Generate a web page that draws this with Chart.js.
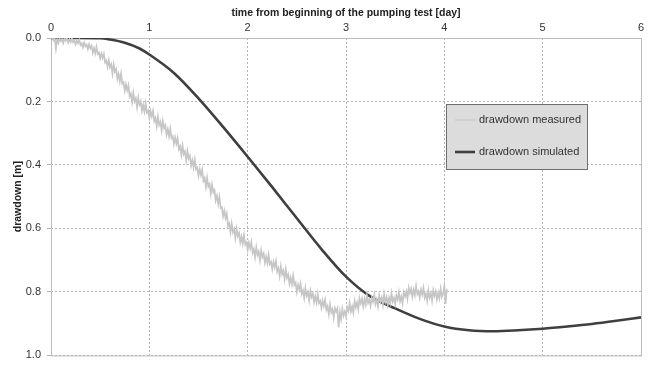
<!DOCTYPE html>
<html lang="en">
<head>
  <meta charset="UTF-8">
  <title>Pumping test drawdown</title>
  <style>
    html, body { margin: 0; padding: 0; background: #fff; }
    #wrap { width: 654px; height: 368px; }
  </style>
</head>
<body>
  <div id="wrap"><canvas id="drawdownChart" width="654" height="368"></canvas></div>

  <script src="https://cdn.jsdelivr.net/npm/chart.js"></script>
  <script>
    // measured drawdown (logger readings) [day] / [m], one row = 0.1 day
    const measuredTime = [
      0.0000, 0.0125, 0.0250, 0.0375, 0.0500, 0.0625, 0.0750, 0.0875,
      0.1000, 0.1125, 0.1250, 0.1375, 0.1500, 0.1625, 0.1750, 0.1875,
      0.2000, 0.2125, 0.2250, 0.2375, 0.2500, 0.2625, 0.2750, 0.2875,
      0.3000, 0.3125, 0.3250, 0.3375, 0.3500, 0.3625, 0.3750, 0.3875,
      0.4000, 0.4125, 0.4250, 0.4375, 0.4500, 0.4625, 0.4750, 0.4875,
      0.5000, 0.5125, 0.5250, 0.5375, 0.5500, 0.5625, 0.5750, 0.5875,
      0.6000, 0.6125, 0.6250, 0.6375, 0.6500, 0.6625, 0.6750, 0.6875,
      0.7000, 0.7125, 0.7250, 0.7375, 0.7500, 0.7625, 0.7750, 0.7875,
      0.8000, 0.8125, 0.8250, 0.8375, 0.8500, 0.8625, 0.8750, 0.8875,
      0.9000, 0.9125, 0.9250, 0.9375, 0.9500, 0.9625, 0.9750, 0.9875,
      1.0000, 1.0125, 1.0250, 1.0375, 1.0500, 1.0625, 1.0750, 1.0875,
      1.1000, 1.1125, 1.1250, 1.1375, 1.1500, 1.1625, 1.1750, 1.1875,
      1.2000, 1.2125, 1.2250, 1.2375, 1.2500, 1.2625, 1.2750, 1.2875,
      1.3000, 1.3125, 1.3250, 1.3375, 1.3500, 1.3625, 1.3750, 1.3875,
      1.4000, 1.4125, 1.4250, 1.4375, 1.4500, 1.4625, 1.4750, 1.4875,
      1.5000, 1.5125, 1.5250, 1.5375, 1.5500, 1.5625, 1.5750, 1.5875,
      1.6000, 1.6125, 1.6250, 1.6375, 1.6500, 1.6625, 1.6750, 1.6875,
      1.7000, 1.7125, 1.7250, 1.7375, 1.7500, 1.7625, 1.7750, 1.7875,
      1.8000, 1.8125, 1.8250, 1.8375, 1.8500, 1.8625, 1.8750, 1.8875,
      1.9000, 1.9125, 1.9250, 1.9375, 1.9500, 1.9625, 1.9750, 1.9875,
      2.0000, 2.0125, 2.0250, 2.0375, 2.0500, 2.0625, 2.0750, 2.0875,
      2.1000, 2.1125, 2.1250, 2.1375, 2.1500, 2.1625, 2.1750, 2.1875,
      2.2000, 2.2125, 2.2250, 2.2375, 2.2500, 2.2625, 2.2750, 2.2875,
      2.3000, 2.3125, 2.3250, 2.3375, 2.3500, 2.3625, 2.3750, 2.3875,
      2.4000, 2.4125, 2.4250, 2.4375, 2.4500, 2.4625, 2.4750, 2.4875,
      2.5000, 2.5125, 2.5250, 2.5375, 2.5500, 2.5625, 2.5750, 2.5875,
      2.6000, 2.6125, 2.6250, 2.6375, 2.6500, 2.6625, 2.6750, 2.6875,
      2.7000, 2.7125, 2.7250, 2.7375, 2.7500, 2.7625, 2.7750, 2.7875,
      2.8000, 2.8125, 2.8250, 2.8375, 2.8500, 2.8625, 2.8750, 2.8875,
      2.9000, 2.9125, 2.9250, 2.9375, 2.9500, 2.9625, 2.9750, 2.9875,
      3.0000, 3.0125, 3.0250, 3.0375, 3.0500, 3.0625, 3.0750, 3.0875,
      3.1000, 3.1125, 3.1250, 3.1375, 3.1500, 3.1625, 3.1750, 3.1875,
      3.2000, 3.2125, 3.2250, 3.2375, 3.2500, 3.2625, 3.2750, 3.2875,
      3.3000, 3.3125, 3.3250, 3.3375, 3.3500, 3.3625, 3.3750, 3.3875,
      3.4000, 3.4125, 3.4250, 3.4375, 3.4500, 3.4625, 3.4750, 3.4875,
      3.5000, 3.5125, 3.5250, 3.5375, 3.5500, 3.5625, 3.5750, 3.5875,
      3.6000, 3.6125, 3.6250, 3.6375, 3.6500, 3.6625, 3.6750, 3.6875,
      3.7000, 3.7125, 3.7250, 3.7375, 3.7500, 3.7625, 3.7750, 3.7875,
      3.8000, 3.8125, 3.8250, 3.8375, 3.8500, 3.8625, 3.8750, 3.8875,
      3.9000, 3.9125, 3.9250, 3.9375, 3.9500, 3.9625, 3.9750, 3.9875,
      4.0000, 4.0125, 4.0250
    ];
    const measuredDrawdown = [
      0.000, 0.000, 0.007, 0.001, 0.034, 0.005, 0.016, 0.001,
      0.010, 0.003, 0.016, 0.000, 0.008, 0.001, 0.015, 0.004,
      0.013, 0.000, 0.013, 0.009, 0.020, 0.008, 0.016, 0.006,
      0.022, 0.017, 0.029, 0.014, 0.026, 0.021, 0.035, 0.020,
      0.032, 0.024, 0.046, 0.032, 0.048, 0.028, 0.050, 0.046,
      0.064, 0.049, 0.063, 0.050, 0.077, 0.071, 0.091, 0.070,
      0.092, 0.083, 0.112, 0.083, 0.106, 0.098, 0.129, 0.113,
      0.136, 0.112, 0.144, 0.140, 0.166, 0.146, 0.165, 0.149,
      0.184, 0.175, 0.202, 0.173, 0.200, 0.190, 0.218, 0.188,
      0.210, 0.200, 0.229, 0.211, 0.232, 0.206, 0.235, 0.229,
      0.252, 0.230, 0.247, 0.229, 0.262, 0.252, 0.278, 0.248,
      0.274, 0.264, 0.292, 0.262, 0.284, 0.275, 0.305, 0.288,
      0.310, 0.285, 0.315, 0.310, 0.334, 0.313, 0.332, 0.315,
      0.350, 0.341, 0.368, 0.339, 0.366, 0.357, 0.386, 0.357,
      0.380, 0.371, 0.402, 0.385, 0.408, 0.383, 0.414, 0.409,
      0.434, 0.413, 0.432, 0.415, 0.450, 0.441, 0.469, 0.440,
      0.468, 0.460, 0.490, 0.462, 0.486, 0.479, 0.512, 0.497,
      0.522, 0.500, 0.535, 0.533, 0.562, 0.544, 0.567, 0.553,
      0.592, 0.584, 0.612, 0.584, 0.612, 0.602, 0.631, 0.601,
      0.624, 0.614, 0.644, 0.626, 0.648, 0.621, 0.651, 0.644,
      0.668, 0.645, 0.662, 0.643, 0.676, 0.665, 0.690, 0.659,
      0.684, 0.673, 0.700, 0.669, 0.690, 0.679, 0.708, 0.689,
      0.710, 0.683, 0.712, 0.705, 0.728, 0.705, 0.722, 0.703,
      0.736, 0.725, 0.750, 0.719, 0.744, 0.733, 0.760, 0.729,
      0.756, 0.745, 0.774, 0.755, 0.776, 0.749, 0.778, 0.771,
      0.800, 0.777, 0.793, 0.774, 0.806, 0.795, 0.819, 0.788,
      0.812, 0.801, 0.827, 0.796, 0.816, 0.805, 0.833, 0.814,
      0.834, 0.807, 0.835, 0.828, 0.850, 0.827, 0.844, 0.825,
      0.856, 0.845, 0.870, 0.839, 0.864, 0.854, 0.881, 0.851,
      0.862, 0.852, 0.912, 0.864, 0.886, 0.853, 0.875, 0.862,
      0.878, 0.849, 0.860, 0.835, 0.862, 0.846, 0.865, 0.829,
      0.848, 0.833, 0.855, 0.820, 0.836, 0.821, 0.846, 0.823,
      0.840, 0.810, 0.835, 0.825, 0.844, 0.818, 0.831, 0.809,
      0.838, 0.824, 0.845, 0.811, 0.832, 0.818, 0.841, 0.807,
      0.832, 0.817, 0.842, 0.819, 0.836, 0.805, 0.830, 0.819,
      0.838, 0.811, 0.824, 0.801, 0.830, 0.815, 0.836, 0.801,
      0.814, 0.799, 0.822, 0.787, 0.804, 0.790, 0.815, 0.793,
      0.810, 0.781, 0.807, 0.798, 0.818, 0.793, 0.808, 0.787,
      0.818, 0.805, 0.828, 0.795, 0.818, 0.804, 0.828, 0.794,
      0.812, 0.798, 0.824, 0.802, 0.820, 0.790, 0.816, 0.806,
      0.780, 0.838, 0.790
    ];

    // simulated drawdown from the model run
    const simulatedTime = [
      0, 0.25, 0.5, 0.6, 0.75, 0.9, 1.0, 1.25, 1.5, 1.75, 2.0, 2.25, 2.5,
      2.75, 3.0, 3.25, 3.5, 3.75, 4.0, 4.25, 4.5, 4.75, 5.0, 5.25, 5.5, 5.75, 6.0
    ];
    const simulatedDrawdown = [
      0, 0, 0.001, 0.005, 0.015, 0.033, 0.052, 0.11, 0.19, 0.28, 0.374, 0.47, 0.568,
      0.665, 0.752, 0.815, 0.852, 0.885, 0.909, 0.921, 0.924, 0.921, 0.916, 0.909, 0.901, 0.891, 0.88
    ];

    const xTicks = [0, 1, 2, 3, 4, 5, 6];
    const yTicks = [0.0, 0.2, 0.4, 0.6, 0.8, 1.0];

    const toPoints = (xs, ys) => xs.map((x, i) => ({ x: x, y: ys[i] }));

    Chart.defaults.font.family = '"Liberation Sans", Arial, sans-serif';
    Chart.defaults.color = '#333';

    // solid frame round the plot area
    const frame = {
      id: 'frame',
      beforeDatasetsDraw(chart) {
        const a = chart.chartArea, c = chart.ctx;
        c.save();
        c.strokeStyle = '#bdbdbd';
        c.lineWidth = 1;
        c.strokeRect(a.left + 0.5, a.top + 0.5, a.right - a.left, a.bottom - a.top);
        c.restore();
      }
    };

    // legend box inside the plot
    const boxLegend = {
      id: 'boxLegend',
      afterDraw(chart) {
        const c = chart.ctx;
        const x = 446, y = 104, w = 141, h = 65;
        c.save();
        c.fillStyle = '#dcdcdc';
        c.fillRect(x, y, w, h);
        c.strokeStyle = '#6e6e6e';
        c.lineWidth = 1;
        c.strokeRect(x + 0.5, y + 0.5, w, h);
        c.font = '11px "Liberation Sans", Arial, sans-serif';
        c.textBaseline = 'middle';
        chart.data.datasets.forEach((ds, i) => {
          const ly = y + 16 + i * 32;
          c.strokeStyle = ds.borderColor;
          c.lineWidth = i === 0 ? 1.2 : ds.borderWidth;
          c.beginPath();
          c.moveTo(x + 9, ly);
          c.lineTo(x + 29, ly);
          c.stroke();
          c.fillStyle = '#333';
          c.fillText(ds.label, x + 33, ly);
        });
        c.restore();
      }
    };

    new Chart(document.getElementById('drawdownChart'), {
      type: 'line',
      data: {
        datasets: [
          {
            label: 'drawdown measured',
            data: toPoints(measuredTime, measuredDrawdown),
            borderColor: '#c6c6c6',
            borderWidth: 1.7,
            pointRadius: 0,
            tension: 0
          },
          {
            label: 'drawdown simulated',
            data: toPoints(simulatedTime, simulatedDrawdown),
            borderColor: '#3f3f3f',
            borderWidth: 2.6,
            pointRadius: 0,
            cubicInterpolationMode: 'monotone'
          }
        ]
      },
      options: {
        responsive: false,
        animation: false,
        layout: { padding: { left: 0, top: 0, right: 13, bottom: 4 } },
        plugins: {
          legend: { display: false },
          tooltip: { enabled: false }
        },
        scales: {
          x: {
            type: 'linear',
            position: 'top',
            min: 0,
            max: 6,
            afterBuildTicks: s => { s.ticks = xTicks.map(v => ({ value: v })); },
            afterFit: s => { s.height = 38; },
            ticks: { font: { size: 11 }, padding: 3, color: '#333', maxRotation: 0 },
            grid: { color: '#b3b3b3', drawTicks: false },
            border: { display: false, dash: [2, 2] },
            title: {
              display: true,
              text: 'time from beginning of the pumping test [day]',
              font: { size: 10.5, weight: 'bold' },
              color: '#222',
              padding: { top: 7, bottom: 0 }
            }
          },
          y: {
            type: 'linear',
            reverse: true,
            min: 0,
            max: 1,
            afterBuildTicks: s => { s.ticks = yTicks.map(v => ({ value: v })); },
            afterFit: s => { s.width = 51; },
            ticks: {
              font: { size: 11 },
              color: '#333',
              padding: 6,
              callback: v => Number(v).toFixed(1)
            },
            grid: { color: '#b3b3b3', tickLength: 4, tickColor: '#b3b3b3' },
            border: { display: false, dash: [2, 2] },
            title: {
              display: true,
              text: 'drawdown [m]',
              font: { size: 10.5, weight: 'bold' },
              color: '#222',
              padding: { top: 12, bottom: 0 }
            }
          }
        }
      },
      plugins: [frame, boxLegend]
    });
  </script>
</body>
</html>
